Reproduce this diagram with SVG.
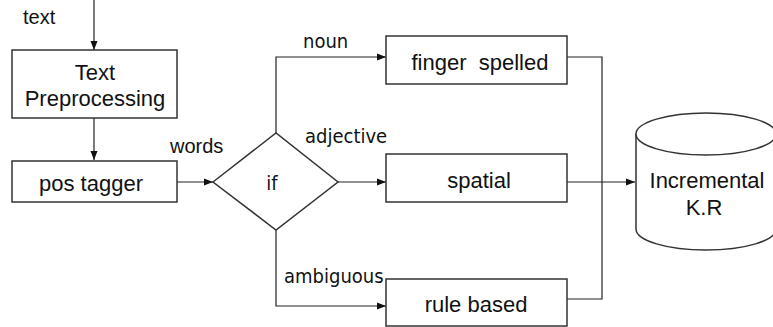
<svg xmlns="http://www.w3.org/2000/svg" width="773" height="327" viewBox="0 0 773 327">
<style>
.box{fill:#fff;stroke:#333;stroke-width:1.5}
.ln{fill:none;stroke:#222;stroke-width:1.2}
.t{font-family:"Liberation Sans",Arial,sans-serif;font-size:22px;fill:#111;text-anchor:middle}
.lb{font-family:"Liberation Sans",Arial,sans-serif;font-size:20px;fill:#111}
.tl{font-family:"DejaVu Sans Condensed","DejaVu Sans",Tahoma,sans-serif;font-stretch:condensed;font-size:20px;fill:#111}
</style>
<defs>
<marker id="ar" markerWidth="10" markerHeight="8" refX="9" refY="4" orient="auto" markerUnits="userSpaceOnUse">
<path d="M0,0.5 L9,4 L0,7.5 z" fill="#111"/>
</marker>
</defs>
<g id="connectors">
<path class="ln" d="M94,0 V50" marker-end="url(#ar)"/>
<path class="ln" d="M94,118 V160" marker-end="url(#ar)"/>
<path class="ln" d="M177,182 H213" marker-end="url(#ar)"/>
<path class="ln" d="M276,133 V57 H386" marker-end="url(#ar)"/>
<path class="ln" d="M338,182 H386" marker-end="url(#ar)"/>
<path class="ln" d="M276,230 V306 H386" marker-end="url(#ar)"/>
<path class="ln" d="M567,57 H602 V299 H567"/>
<path class="ln" d="M567,182 H635" marker-end="url(#ar)"/>
<text class="lb" x="23" y="24">text</text>
<text class="lb" x="170" y="153">words</text>
<text class="tl" x="303" y="48">noun</text>
<text class="tl" x="305" y="143">adjective</text>
<text class="tl" x="284" y="283">ambiguous</text>
</g>
<g id="text-preprocessing">
<rect class="box" x="12" y="50" width="165" height="68"/>
<text class="t" x="95" y="80">Text</text>
<text class="t" x="95" y="106">Preprocessing</text>
</g>
<g id="pos-tagger">
<rect class="box" x="12" y="161" width="165" height="41"/>
<text class="t" x="91" y="191">pos tagger</text>
</g>
<g id="if">
<path class="box" d="M213,182 L276,133 L338,182 L276,230 Z"/>
<text class="tl" x="272" y="190" text-anchor="middle">if</text>
</g>
<g id="finger-spelled">
<rect class="box" x="386" y="36" width="181" height="48"/>
<text class="t" x="480" y="70" xml:space="preserve" style="white-space:pre">finger  spelled</text>
</g>
<g id="spatial">
<rect class="box" x="386" y="154" width="181" height="48"/>
<text class="t" x="479" y="188">spatial</text>
</g>
<g id="rule-based">
<rect class="box" x="386" y="279" width="181" height="47"/>
<text class="t" x="476" y="312">rule based</text>
</g>
<g id="incremental-kr">
<path class="box" d="M636,134 V229 A70,21 0 0 0 776,229 V134"/>
<ellipse class="box" cx="706" cy="134" rx="70" ry="21"/>
<text class="t" x="707" y="188">Incremental</text>
<text class="t" x="704" y="215">K.R</text>
</g>
</svg>
